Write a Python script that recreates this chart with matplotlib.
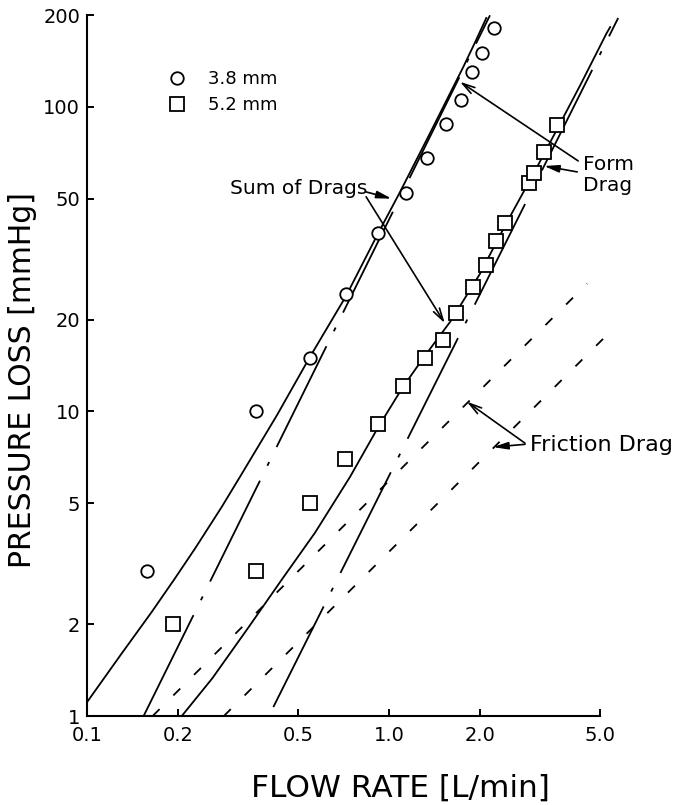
import matplotlib
matplotlib.use('Agg')
import matplotlib.pyplot as plt
from matplotlib.ticker import NullLocator

plt.rcParams['font.family'] = ['DejaVu Sans']
plt.rcParams['lines.scale_dashes'] = False

# measured points
q_38 = [0.158, 0.363, 0.547, 0.720, 0.922, 1.138, 1.339, 1.541, 1.725, 1.878, 2.028, 2.226]
dp_38 = [3.0, 10.0, 15.0, 24.3, 38.5, 52.3, 67.9, 87.7, 105.5, 130.6, 150.7, 182.0]
q_52 = [0.192, 0.363, 0.547, 0.715, 0.922, 1.11, 1.316, 1.506, 1.667, 1.893, 2.09,
        2.256, 2.43, 2.91, 3.02, 3.27, 3.59]
dp_52 = [2.0, 3.0, 5.0, 7.0, 9.1, 12.1, 15.0, 17.2, 21.1, 25.7, 30.3,
         36.4, 41.7, 56.1, 60.8, 71.3, 87.3]

# model curves
sum38_q = [0.1, 0.13, 0.164, 0.195, 0.228, 0.279, 0.321, 0.425, 0.545, 0.72, 0.922, 1.087,
           1.367, 1.76, 1.927, 2.1]
sum38_dp = [1.11, 1.6, 2.2, 2.82, 3.55, 4.85, 6.1, 9.7, 15.0, 23.9, 38.6, 52.5,
            82.0, 135.0, 163.0, 196.0]
form38_q = [0.154, 2.16]
form38_dp = [1.0, 200.0]
fric38_q = [0.165, 4.53]
fric38_dp = [1.0, 26.3]

sum52_q = [0.206, 0.26, 0.342, 0.441, 0.569, 0.743, 0.922, 1.11, 1.3, 1.6, 2.0, 2.43,
           3.0, 3.59, 4.3, 5.26, 5.4]
sum52_dp = [1.0, 1.33, 1.95, 2.8, 4.0, 6.1, 8.9, 12.0, 15.0, 19.8, 28.3, 41.0,
            60.0, 84.0, 118.0, 175.0, 183.0]
form52_q = [0.414, 5.74]
form52_dp = [1.07, 196.0]
fric52_q = [0.284, 5.2]
fric52_dp = [1.0, 17.6]

xticks = [0.1, 0.2, 0.5, 1.0, 2.0, 5.0]
xticklabels = ['0.1', '0.2', '0.5', '1.0', '2.0', '5.0']
yticks = [1, 2, 5, 10, 20, 50, 100, 200]
yticklabels = ['1', '2', '5', '10', '20', '50', '100', '200']

W, H = 673, 805
fig = plt.figure(figsize=(W / 100, H / 100), dpi=100)
ax = fig.add_axes([87 / W, 89 / H, 533 / W, 700.7 / H])
ax.set_xscale('log')
ax.set_yscale('log')
ax.set_xlim(0.1, 5.82)
ax.set_ylim(1, 200)

lw = 1.3
dashdot = (0, (81, 12, 3, 12))
dashed = (0, (7, 14))
ax.plot(sum38_q, sum38_dp, color='k', lw=lw, zorder=2)
ax.plot(form38_q, form38_dp, color='k', lw=lw, ls=dashdot, zorder=2)
ax.plot(fric38_q, fric38_dp, color='k', lw=lw, ls=dashed, zorder=2)
ax.plot(sum52_q, sum52_dp, color='k', lw=lw, zorder=2)
ax.plot(form52_q, form52_dp, color='k', lw=lw, ls=dashdot, zorder=2)
ax.plot(fric52_q, fric52_dp, color='k', lw=lw, ls=dashed, zorder=2)

ax.plot(q_38, dp_38, ls='none', marker='o', ms=9, mfc='white', mec='k', mew=1.3,
        zorder=3, label='3.8 mm')
ax.plot(q_52, dp_52, ls='none', marker='s', ms=9.5, mfc='white', mec='k', mew=1.3,
        zorder=3, label='5.2 mm')

ax.legend(loc='upper left', bbox_to_anchor=(168 / W, 1 - 70 / H), bbox_transform=fig.transFigure,
          frameon=False, fontsize=13, handlelength=1.0, handletextpad=1.2,
          labelspacing=0.45, borderpad=0, borderaxespad=0, numpoints=1)

ax.spines['top'].set_visible(False)
ax.spines['right'].set_visible(False)
ax.spines['left'].set_linewidth(1.5)
ax.spines['bottom'].set_linewidth(1.5)
ax.spines['bottom'].set_bounds(0.1, 5.0)
ax.spines['left'].set_bounds(1, 200)

ax.set_xticks(xticks)
ax.set_xticklabels(xticklabels)
ax.set_yticks(yticks)
ax.set_yticklabels(yticklabels)
ax.xaxis.set_minor_locator(NullLocator())
ax.yaxis.set_minor_locator(NullLocator())
ax.tick_params(direction='in', length=5, width=1.4, labelsize=14, colors='k')
ax.tick_params(axis='x', pad=7)
ax.tick_params(axis='y', pad=5)

fig.text(22.5 / W, 1 - 380 / H, 'PRESSURE LOSS [mmHg]', rotation=90, fontsize=21.5,
         ha='center', va='center')
fig.text(400 / W, 1 - 788 / H, 'FLOW RATE [L/min]', fontsize=22.5, ha='center', va='center')

# annotations
fs = 14.5
long_arrow = dict(arrowstyle='->,head_length=0.9,head_width=0.25', lw=1.2, color='k',
                  shrinkA=0, shrinkB=0)
short_arrow = dict(arrowstyle='-|>,head_length=0.9,head_width=0.22', lw=1.2, color='k',
                   shrinkA=0, shrinkB=0)

ax.text(0.297, 54, 'Sum of Drags', fontsize=fs, ha='left', va='center')
ax.annotate('', xy=(1.02, 50), xytext=(0.84, 52.6), arrowprops=short_arrow)
ax.annotate('', xy=(1.53, 19.5), xytext=(0.84, 50.7), arrowprops=long_arrow)

ax.text(4.39, 59.8, 'Form\nDrag', fontsize=fs, ha='left', va='center', linespacing=1.1)
ax.annotate('', xy=(1.718, 121), xytext=(4.23, 66.5), arrowprops=long_arrow)
ax.annotate('', xy=(3.26, 64.0), xytext=(4.2, 61.2), arrowprops=short_arrow)

ax.text(2.93, 7.76, 'Friction Drag', fontsize=16, ha='left', va='center')
ax.annotate('', xy=(1.81, 10.77), xytext=(2.82, 7.87), arrowprops=long_arrow)
ax.annotate('', xy=(2.21, 7.64), xytext=(2.82, 7.8), arrowprops=short_arrow)

fig.savefig('out.png', dpi=100)
